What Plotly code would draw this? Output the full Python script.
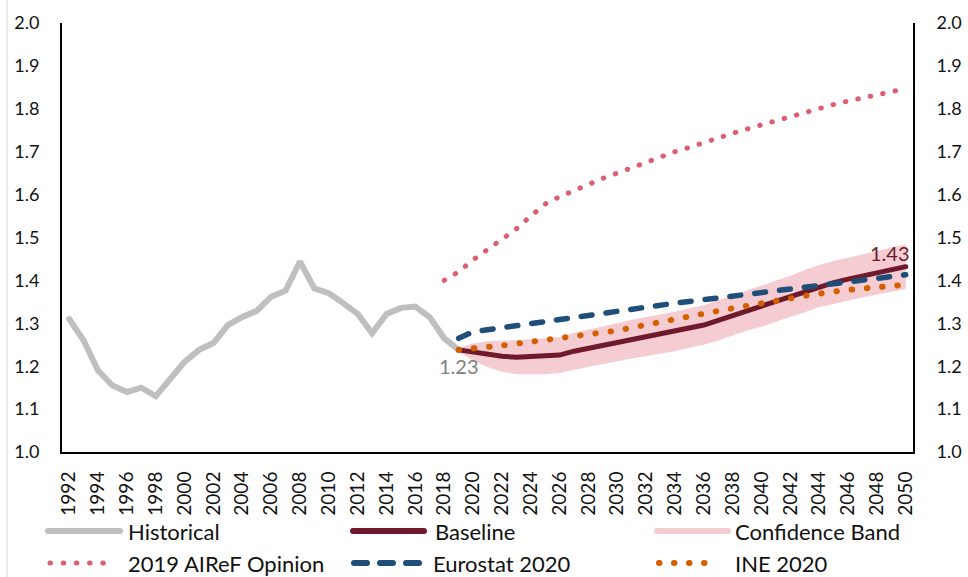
import plotly.graph_objects as go

# ---------------- data ----------------
hist_years = list(range(1992, 2020))
historical = [1.31, 1.26, 1.19, 1.155, 1.14, 1.15, 1.13, 1.17, 1.21, 1.238,
              1.254, 1.296, 1.315, 1.329, 1.362, 1.376, 1.444, 1.381, 1.37, 1.347,
              1.322, 1.277, 1.322, 1.336, 1.339, 1.314, 1.265, 1.238]

proj_years = list(range(2019, 2051))
baseline = [1.238, 1.233, 1.228, 1.223, 1.221, 1.222, 1.223, 1.226, 1.235, 1.242,
            1.249, 1.256, 1.263, 1.269, 1.275, 1.281, 1.289, 1.296, 1.307, 1.318,
            1.330, 1.340, 1.352, 1.363, 1.375, 1.387, 1.395, 1.403, 1.411, 1.418,
            1.425, 1.432]
band_lower = [1.233, 1.213, 1.198, 1.187, 1.181, 1.181, 1.181, 1.184, 1.192, 1.199,
              1.205, 1.212, 1.218, 1.224, 1.230, 1.235, 1.243, 1.250, 1.260, 1.271,
              1.283, 1.292, 1.304, 1.315, 1.326, 1.338, 1.345, 1.353, 1.361, 1.367,
              1.374, 1.380]
band_upper = [1.243, 1.253, 1.258, 1.259, 1.261, 1.263, 1.265, 1.268, 1.278, 1.285,
              1.293, 1.300, 1.308, 1.314, 1.320, 1.327, 1.335, 1.342, 1.354, 1.365,
              1.377, 1.388, 1.400, 1.411, 1.424, 1.436, 1.445, 1.453, 1.461, 1.469,
              1.476, 1.484]
eurostat = [1.265, 1.280, 1.285, 1.290, 1.295, 1.300, 1.305, 1.310, 1.313, 1.317,
            1.322, 1.327, 1.332, 1.337, 1.342, 1.347, 1.351, 1.355, 1.359, 1.363,
            1.367, 1.372, 1.377, 1.382, 1.386, 1.390, 1.394, 1.398, 1.402, 1.406,
            1.410, 1.413]
ine = [1.238, 1.240, 1.245, 1.248, 1.252, 1.256, 1.260, 1.264, 1.268, 1.272,
       1.277, 1.283, 1.290, 1.297, 1.303, 1.310, 1.316, 1.323, 1.329, 1.335,
       1.340, 1.346, 1.352, 1.358, 1.364, 1.370, 1.374, 1.378, 1.381, 1.384,
       1.387, 1.390]

airef_years = list(range(2018, 2051))
airef = [1.400, 1.420, 1.448, 1.473, 1.495, 1.520, 1.550, 1.578, 1.595, 1.610,
         1.625, 1.638, 1.650, 1.663, 1.677, 1.690, 1.700, 1.710, 1.722, 1.733,
         1.743, 1.753, 1.763, 1.773, 1.783, 1.793, 1.800, 1.810, 1.818, 1.826,
         1.833, 1.840, 1.847]

x_ticks = list(range(1992, 2051, 2))
y_ticks = [1.0, 1.1, 1.2, 1.3, 1.4, 1.5, 1.6, 1.7, 1.8, 1.9, 2.0]

legend_names = ["Historical", "Baseline", "Confidence Band",
                "2019 AIReF Opinion", "Eurostat 2020", "INE 2020"]

# ---------------- styles ----------------
C_HIST = "#BFBFBF"
C_BASE = "#6E1A2A"
C_BAND = "#F4CCD2"
C_AIREF = "#DB5F71"
C_EURO = "#1F4E79"
C_INE = "#D45F00"
FONT = "Lato"

fig = go.Figure()

fig.add_trace(go.Scatter(x=proj_years, y=band_lower, mode="lines",
                         line=dict(width=0, color=C_BAND), showlegend=False,
                         hoverinfo="skip"))
fig.add_trace(go.Scatter(x=proj_years, y=band_upper, mode="lines", fill="tonexty",
                         fillcolor=C_BAND, line=dict(width=0, color=C_BAND),
                         name=legend_names[2], showlegend=False))
fig.add_trace(go.Scatter(x=hist_years, y=historical, mode="lines",
                         line=dict(color=C_HIST, width=6), name=legend_names[0],
                         showlegend=False))
fig.add_trace(go.Scatter(x=airef_years, y=airef, mode="lines", yaxis="y2",
                         line=dict(color=C_AIREF, width=5, dash="0.5px,12.2px"),
                         name=legend_names[3], showlegend=False))
fig.add_trace(go.Scatter(x=proj_years, y=baseline, mode="lines",
                         line=dict(color=C_BASE, width=5), name=legend_names[1],
                         showlegend=False))
fig.add_trace(go.Scatter(x=proj_years, y=eurostat, mode="lines",
                         line=dict(color=C_EURO, width=5.5, dash="11px,14px"),
                         name=legend_names[4], showlegend=False))
fig.add_trace(go.Scatter(x=proj_years, y=ine, mode="lines",
                         line=dict(color=C_INE, width=6, dash="0.5px,14.8px"),
                         name=legend_names[5], showlegend=False))

# value labels
fig.add_annotation(x=hist_years[-1], y=historical[-1], text="1.23", showarrow=False,
                   xanchor="center", yanchor="top", yshift=-2,
                   font=dict(family=FONT, size=20, color="#808080"))
fig.add_annotation(x=proj_years[-1], y=baseline[-1], text="1.43", showarrow=False,
                   xanchor="right", yanchor="bottom", xshift=6, yshift=0,
                   font=dict(family=FONT, size=20, color=C_BASE))

# ---------------- manual legend ----------------
L, R, T, B = 62, 55, 23, 125
W, H = 968, 577
pw, ph = W - L - R, H - T - B


def px_x(p):
    return (p - L) / pw


def px_y(p):
    return (H - B - p) / ph


legend_items = [
    (legend_names[0], 48, 120, 531, C_HIST, 6, None, 126),
    (legend_names[1], 353, 424, 531, C_BASE, 6, None, 433),
    (legend_names[2], 657, 728, 531, C_BAND, 6, None, 733),
    (legend_names[3], 50, 115, 563, C_AIREF, 5, "0.5px,12.7px", 126),
    (legend_names[4], 354, 421, 563, C_EURO, 6, "13px,13px", 431),
    (legend_names[5], 659, 718, 563, C_INE, 6, "0.5px,14.5px", 733),
]
for name, x0, x1, yy, col, lw, dash, tx in legend_items:
    line = dict(color=col, width=lw)
    if dash:
        line["dash"] = dash
    fig.add_shape(type="line", xref="paper", yref="paper",
                  x0=px_x(x0), x1=px_x(x1), y0=px_y(yy), y1=px_y(yy), line=line)
    fig.add_annotation(xref="paper", yref="paper", x=px_x(tx), y=px_y(yy),
                       text=name, showarrow=False, xanchor="left", yanchor="middle",
                       font=dict(family=FONT, size=22, color="#111111"))

# faint outer border line on the left
fig.add_shape(type="line", xref="paper", yref="paper", x0=px_x(7), x1=px_x(7),
              y0=px_y(577), y1=px_y(0), line=dict(color="#D9D9D9", width=1))

fig.update_layout(
    width=W, height=H,
    margin=dict(l=L, r=R, t=T, b=B, autoexpand=False),
    paper_bgcolor="white", plot_bgcolor="white",
    showlegend=False,
    font=dict(family=FONT, size=18, color="#111111"),
    xaxis=dict(range=[1991.5, 2050.5], tickmode="array", tickvals=x_ticks,
               ticktext=[str(v) for v in x_ticks], tickangle=-90,
               showgrid=False, zeroline=False, showline=True, linecolor="black",
               linewidth=2, ticks="", ticklabelstandoff=10, automargin=False,
               tickfont=dict(family=FONT, size=19, color="#111111")),
    yaxis=dict(range=[1.0, 2.0], tickmode="array", tickvals=y_ticks,
               tickformat=".1f", showgrid=False, zeroline=False, showline=True,
               linecolor="black", linewidth=2, ticks="", ticklabelstandoff=17,
               automargin=False,
               tickfont=dict(family=FONT, size=18, color="#111111")),
    yaxis2=dict(range=[1.0, 2.0], tickmode="array", tickvals=y_ticks,
                tickformat=".1f", overlaying="y", side="right", showgrid=False,
                zeroline=False, showline=True, linecolor="black", linewidth=2,
                ticks="", ticklabelstandoff=18, automargin=False,
                tickfont=dict(family=FONT, size=18, color="#111111")),
)

post = ("document.body.style.margin='0';document.body.style.padding='0';"
        "var s=document.createElement('style');"
        "s.innerHTML='body{margin:0 !important;} .js-line,.shapelayer path{stroke-linecap:round !important;}';"
        "document.head.appendChild(s);")
fig.write_html("out.html", post_script=post, config={"displayModeBar": False})
